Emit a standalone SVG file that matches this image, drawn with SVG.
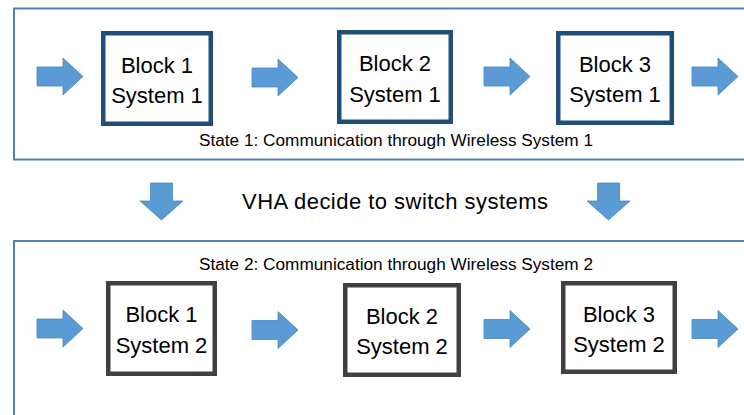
<svg xmlns="http://www.w3.org/2000/svg" width="744" height="415" viewBox="0 0 744 415">
<defs>
<style>
.frame{fill:none;stroke:#5080b8;stroke-width:2}
.blk1{fill:#fff;stroke:#1f4e79;stroke-width:4.5}
.blk2{fill:#fff;stroke:#404040;stroke-width:4.5}
.arr{fill:#5b9bd5;stroke:#4a86c0;stroke-width:0.8}
.lbl{font-family:"Liberation Sans",Arial,sans-serif;font-size:22px;fill:#000;text-anchor:middle}
.cap{font-family:"Liberation Sans",Arial,sans-serif;font-size:16px;fill:#000}
.big{font-family:"Liberation Sans",Arial,sans-serif;font-size:22px;fill:#000}
</style>
<path id="rarrow" d="M0,-9.5 H26 V-18.5 L46,0 L26,18.5 V9.5 H0 Z"/>
<path id="darrow" d="M-11,0 H11 V18 H21.5 L0,37 L-21.5,18 H-11 Z"/>
</defs>
<rect width="744" height="415" fill="#fff"/>
<g id="state1">
<rect class="frame" x="14" y="8.5" width="760" height="151"/>
<text class="cap" x="199" y="146" textLength="394" lengthAdjust="spacingAndGlyphs">State 1: Communication through Wireless System 1</text>
</g>
<g id="state2">
<rect class="frame" x="14" y="241" width="760" height="200"/>
<text class="cap" x="199" y="270" textLength="394" lengthAdjust="spacingAndGlyphs">State 2: Communication through Wireless System 2</text>
</g>
<g id="b1s1">
<rect class="blk1" x="103.25" y="33.25" width="107.5" height="90.5"/>
<text class="lbl" x="157" y="73">Block 1</text>
<text class="lbl" x="157" y="103">System 1</text>
</g>
<g id="b2s1">
<rect class="blk1" x="339.25" y="32.25" width="111.5" height="89.5"/>
<text class="lbl" x="395" y="71">Block 2</text>
<text class="lbl" x="395" y="102">System 1</text>
</g>
<g id="b3s1">
<rect class="blk1" x="558.25" y="33.25" width="113.5" height="89.5"/>
<text class="lbl" x="615" y="72">Block 3</text>
<text class="lbl" x="615" y="102">System 1</text>
</g>
<g id="b1s2">
<rect class="blk2" x="108.25" y="283.25" width="106.5" height="90.5"/>
<text class="lbl" x="161.5" y="322">Block 1</text>
<text class="lbl" x="161.5" y="353">System 2</text>
</g>
<g id="b2s2">
<rect class="blk2" x="345.25" y="285.25" width="113.5" height="89.5"/>
<text class="lbl" x="402" y="324">Block 2</text>
<text class="lbl" x="402" y="354">System 2</text>
</g>
<g id="b3s2">
<rect class="blk2" x="563.25" y="283.25" width="111.5" height="88.5"/>
<text class="lbl" x="619" y="322">Block 3</text>
<text class="lbl" x="619" y="352">System 2</text>
</g>
<g id="switch">
<text class="big" x="242" y="209" textLength="306">VHA decide to switch systems</text>
</g>
<g id="connectors">
<use href="#rarrow" class="arr" x="37" y="76.5"/>
<use href="#rarrow" class="arr" x="252" y="77.5"/>
<use href="#rarrow" class="arr" x="484" y="76.5"/>
<use href="#rarrow" class="arr" x="692" y="76.5"/>
<use href="#rarrow" class="arr" x="37" y="328.5"/>
<use href="#rarrow" class="arr" x="252" y="330"/>
<use href="#rarrow" class="arr" x="484" y="329"/>
<use href="#rarrow" class="arr" x="692" y="329"/>
<use href="#darrow" class="arr" x="161.5" y="183"/>
<use href="#darrow" class="arr" x="608.5" y="183"/>
</g>
</svg>
